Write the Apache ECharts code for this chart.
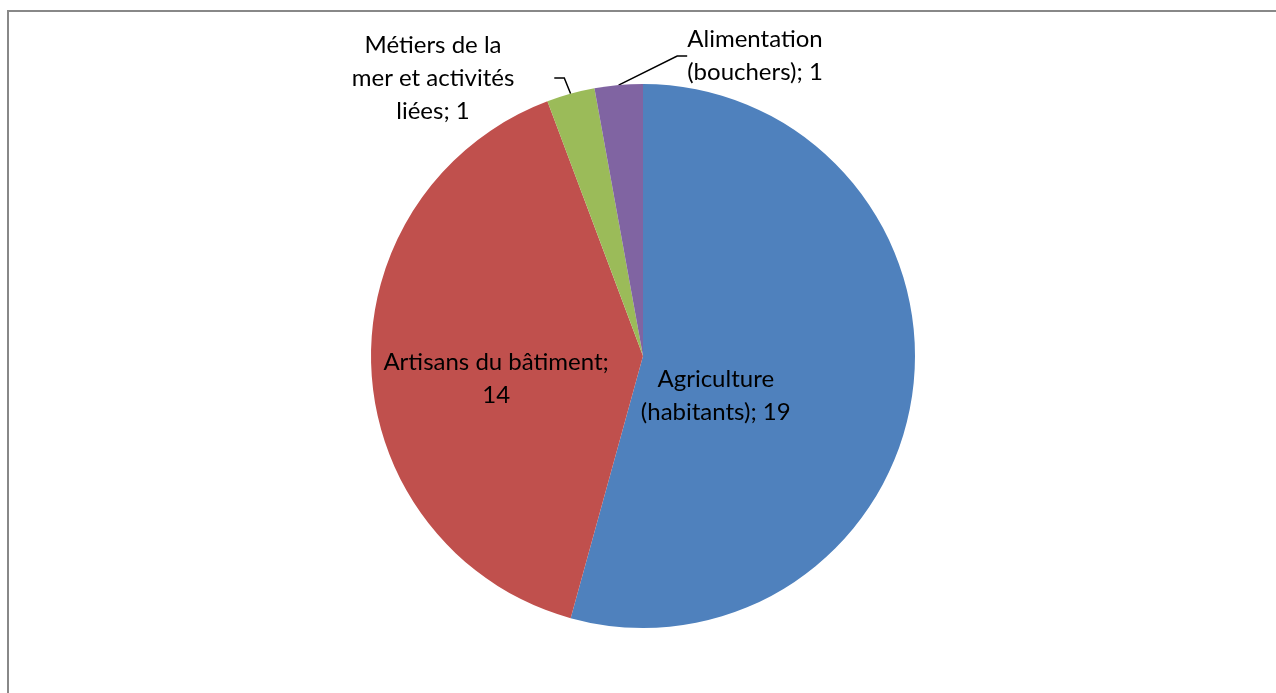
<!DOCTYPE html>
<html>
<head>
<meta charset="utf-8">
<script src="https://cdn.jsdelivr.net/npm/echarts@6/dist/echarts.min.js"></script>
<style>
html,body{margin:0;padding:0;background:#fff;}
#chart{width:1276px;height:693px;}
</style>
</head>
<body>
<div id="chart"></div>
<script>
const categories = ['Agriculture (habitants)', 'Artisans du bâtiment', 'Métiers de la mer et activités liées', 'Alimentation (bouchers)'];
const labelTexts = ['Agriculture\n(habitants); 19', 'Artisans du bâtiment;\n14', 'Métiers de la\nmer et activités\nliées; 1', 'Alimentation\n(bouchers); 1'];
const values = [19, 14, 1, 1];
const colors = ['#4F81BD', '#C0504D', '#9BBB59', '#8064A2'];

const FONT = 'Lato, "Noto Sans", sans-serif';
const chart = echarts.init(document.getElementById('chart'), null, {renderer: 'canvas'});

// label placement tweaks (Excel-like label positions)
const labelPlacement = {
  0: {dx: -65, dy: 21},
  1: {dx: -8, dy: 17},
  2: {x: 453, y: 78, padRight: 40},
  3: {x: 755, y: 56, padRight: 0}
};

chart.setOption({
  animation: false,
  graphic: [{
    type: 'rect',
    shape: {x: 8, y: 11, width: 1400, height: 800},
    style: {fill: 'none', stroke: '#888888', lineWidth: 2},
    silent: true, z: -1
  }],
  series: [{
    type: 'pie',
    center: [643, 356],
    radius: 272,
    startAngle: 90,
    clockwise: true,
    avoidLabelOverlap: false,
    itemStyle: {borderWidth: 0},
    label: {
      fontFamily: FONT,
      fontSize: 24,
      color: '#000',
      lineHeight: 33,
      align: 'center'
    },
    labelLine: {show: true, lineStyle: {color: '#000', width: 1.5}},
    labelLayout: function (p) {
      const a = labelPlacement[p.dataIndex];
      if (a.x != null) {
        return {x: a.x, y: a.y, align: 'center', verticalAlign: 'middle'};
      }
      return {dx: a.dx, dy: a.dy};
    },
    data: values.map((v, i) => ({
      value: v,
      name: categories[i],
      itemStyle: {color: colors[i]},
      label: i < 2 ? {
        position: 'inside',
        formatter: labelTexts[i]
      } : {
        position: 'outside',
        formatter: labelTexts[i],
        padding: [0, labelPlacement[i].padRight, 0, 0]
      },
      labelLine: {show: i >= 2, length: 10, length2: 10}
    }))
  }]
});
</script>
</body>
</html>
